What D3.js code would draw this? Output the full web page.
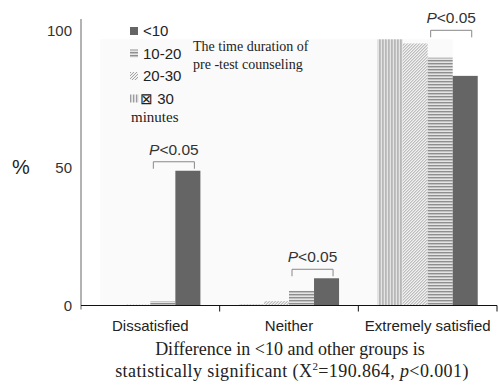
<!DOCTYPE html>
<html>
<head>
<meta charset="utf-8">
<script src="https://cdn.jsdelivr.net/npm/d3@7"></script>
<style>
	body { margin: 0; background: #ffffff; }
	svg { display: block; }
</style>
</head>
<body>
<script>
// values (% of each counseling-time group)
var categories = ["Dissatisfied", "Neither", "Extremely satisfied"];
var seriesKeys = ["over30", "g20to30", "g10to20", "under10"];
var over30 = [0, 0.4, 96.8];
var g20to30 = [0.3, 1.6, 95.3];
var g10to20 = [1.6, 5.3, 90.1];
var under10 = [49, 9.9, 83.5];
var yTicks = [0, 50, 100];
var legendLabels = ["<10", "10-20", "20-30", "\u22A0 30"];
var legendKeys = ["under10", "g10to20", "g20to30", "over30"];
var pLabel = "<0.05";

var series = { over30: over30, g20to30: g20to30, g10to20: g10to20, under10: under10 };
var fills = {
	under10: "#656565",
	g10to20: "url(#hstripe)",
	g20to30: "url(#diag)",
	over30: "url(#vstripe)"
};

var W = 499, H = 390;
var mLeft = 81, mRight = 497, mTop = 30.5, mBottom = 305.5;

var svg = d3.select("body")
	.append("svg")
	.attr("width", W)
	.attr("height", H);

// patterns for the hatched bars
var defs = svg.append("defs");
var hp = defs.append("pattern")
	.attr("id", "hstripe")
	.attr("patternUnits", "userSpaceOnUse")
	.attr("width", 4)
	.attr("height", 3);
hp.append("rect").attr("width", 4).attr("height", 3).attr("fill", "#e4e4e4");
hp.append("rect").attr("width", 4).attr("height", 1.4).attr("fill", "#8e8e8e");

var dp = defs.append("pattern")
	.attr("id", "diag")
	.attr("patternUnits", "userSpaceOnUse")
	.attr("width", 3)
	.attr("height", 3);
dp.append("rect").attr("width", 3).attr("height", 3).attr("fill", "#f2f2f2");
dp.append("path")
	.attr("d", "M-1,1 l2,-2 M0,3 l3,-3 M2,4 l2,-2")
	.attr("stroke", "#9a9a9a")
	.attr("stroke-width", 0.9);

var vp = defs.append("pattern")
	.attr("id", "vstripe")
	.attr("patternUnits", "userSpaceOnUse")
	.attr("width", 3)
	.attr("height", 4);
vp.append("rect").attr("width", 3).attr("height", 4).attr("fill", "#ececec");
vp.append("rect").attr("width", 1.3).attr("height", 4).attr("fill", "#9c9c9c");

var x = d3.scaleBand()
	.domain(categories)
	.range([mLeft, mRight])
	.padding(0);
var x1 = d3.scaleBand()
	.domain(seriesKeys)
	.range([0, x.bandwidth()])
	.paddingInner(0)
	.paddingOuter(0.77);
var y = d3.scaleLinear()
	.domain([0, 100])
	.range([mBottom, mTop]);

// faint plot background
var bgX0 = x(categories[0]) + x1("over30");
var bgX1 = x(categories[2]) + x1("g10to20") + x1.bandwidth();
svg.append("rect")
	.attr("x", bgX0)
	.attr("y", y(96.8))
	.attr("width", bgX1 - bgX0)
	.attr("height", y(0) - y(96.8))
	.attr("fill", "#fafafa");

// bars
var groups = svg.selectAll("g.grp")
	.data(categories)
	.enter()
	.append("g")
	.attr("class", "grp")
	.attr("transform", function (d) { return "translate(" + x(d) + ",0)"; });

groups.selectAll("rect")
	.data(function (d, i) {
		return seriesKeys.map(function (k) { return { key: k, value: series[k][i] }; });
	})
	.enter()
	.append("rect")
	.attr("x", function (d) { return x1(d.key); })
	.attr("y", function (d) { return y(d.value); })
	.attr("width", x1.bandwidth())
	.attr("height", function (d) { return y(0) - y(d.value); })
	.attr("fill", function (d) { return fills[d.key]; });

// P<0.05 brackets between 10-20 and <10
categories.forEach(function (c, i) {
	var maxV = d3.max(seriesKeys, function (k) { return series[k][i]; });
	var by = y(maxV) - 9;
	var x0 = x(c) + x1("g10to20") + 3;
	var x2 = x(c) + x1("under10") + x1.bandwidth() - 6;
	svg.append("path")
		.attr("d", "M" + x0 + "," + (by + 7) + "V" + by + "H" + x2 + "V" + (by + 7))
		.attr("fill", "none")
		.attr("stroke", "#888")
		.attr("stroke-width", 1);
	var t = svg.append("text")
		.attr("x", (x0 + x2) / 2)
		.attr("y", by - 7)
		.attr("text-anchor", "middle")
		.style("font-family", "Liberation Sans, Arial, sans-serif")
		.style("font-size", "15.5px")
		.attr("fill", "#333");
	t.append("tspan").style("font-style", "italic").text("P");
	t.append("tspan").text(pLabel);
});

// axes
svg.append("line")
	.attr("x1", mLeft).attr("x2", mLeft)
	.attr("y1", 19).attr("y2", mBottom + 4)
	.attr("stroke", "#808080")
	.attr("stroke-width", 1.2);
svg.append("line")
	.attr("x1", mLeft).attr("x2", mRight)
	.attr("y1", mBottom).attr("y2", mBottom)
	.attr("stroke", "#111")
	.attr("stroke-width", 1.2);
svg.selectAll("line.sep")
	.data(categories)
	.enter()
	.append("line")
	.attr("class", "sep")
	.attr("x1", function (d) { return x(d) + x.bandwidth(); })
	.attr("x2", function (d) { return x(d) + x.bandwidth(); })
	.attr("y1", mBottom)
	.attr("y2", mBottom + 6)
	.attr("stroke", "#111");

var xAxis = svg.append("g")
	.attr("transform", "translate(0," + mBottom + ")")
	.call(d3.axisBottom(x).tickSize(0).tickPadding(15));
xAxis.select(".domain").remove();
xAxis.selectAll("text")
	.style("font-family", "Liberation Sans, Arial, sans-serif")
	.style("font-size", "15px")
	.attr("fill", "#222");

var yAxis = svg.append("g")
	.attr("transform", "translate(" + mLeft + ",0)")
	.call(d3.axisLeft(y).tickValues(yTicks).tickSize(0).tickPadding(9));
yAxis.select(".domain").remove();
yAxis.selectAll("text")
	.style("font-family", "Liberation Sans, Arial, sans-serif")
	.style("font-size", "15px")
	.attr("fill", "#333");

svg.append("text")
	.attr("x", 21)
	.attr("y", y(50) + 6)
	.attr("text-anchor", "middle")
	.style("font-family", "Liberation Sans, Arial, sans-serif")
	.style("font-size", "20px")
	.attr("fill", "#222")
	.text("%");

// legend
var leg = svg.append("g").attr("transform", "translate(130,31)");
legendKeys.forEach(function (k, i) {
	var gy = i * 22.5;
	leg.append("rect")
		.attr("x", 0)
		.attr("y", gy - 4)
		.attr("width", k == "over30" ? 9 : 8)
		.attr("height", 8)
		.attr("fill", fills[k]);
	leg.append("text")
		.attr("x", k == "over30" ? 10 : 13)
		.attr("y", gy + 5)
		.style("font-family", "Liberation Sans, Arial, sans-serif")
		.style("font-size", "15px")
		.attr("fill", "#222")
		.text(legendLabels[i]);
});
leg.append("text")
	.attr("x", 1)
	.attr("y", 3 * 22.5 + 23)
	.style("font-family", "Liberation Serif, Times New Roman, serif")
	.style("font-size", "15px")
	.attr("fill", "#222")
	.text("minutes");

svg.append("text")
	.attr("x", 193)
	.attr("y", 51)
	.style("font-family", "Liberation Serif, Times New Roman, serif")
	.style("font-size", "14px")
	.attr("fill", "#222")
	.text("The time duration of");
svg.append("text")
	.attr("x", 193)
	.attr("y", 69)
	.style("font-family", "Liberation Serif, Times New Roman, serif")
	.style("font-size", "14px")
	.attr("fill", "#222")
	.text("pre -test counseling");

// caption
var cap = svg.append("g")
	.style("font-family", "Liberation Serif, Times New Roman, serif")
	.style("font-size", "18px")
	.attr("fill", "#222");
cap.append("text")
	.attr("x", 290)
	.attr("y", 355)
	.attr("text-anchor", "middle")
	.text("Difference in <10 and other groups is");
var c2 = cap.append("text")
	.attr("x", 292)
	.attr("y", 377)
	.attr("text-anchor", "middle")
	.style("letter-spacing", "0.4px");
c2.append("tspan").text("statistically significant (X");
c2.append("tspan").attr("dy", -7).style("font-size", "11px").text("2");
c2.append("tspan").attr("dy", 7).text("=190.864, ");
c2.append("tspan").style("font-style", "italic").text("p");
c2.append("tspan").text("<0.001)");
</script>
</body>
</html>
